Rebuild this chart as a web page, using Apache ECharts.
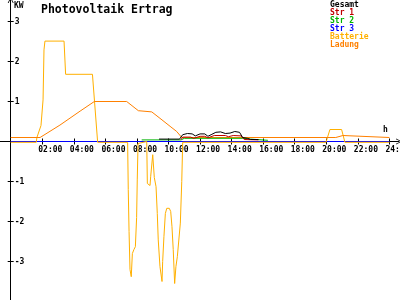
<!DOCTYPE html>
<html><head><meta charset="utf-8">
<script src="https://cdn.jsdelivr.net/npm/echarts@6/dist/echarts.min.js"></script>
<style>html,body{margin:0;padding:0;background:#fff}#c{width:400px;height:300px}</style>
</head><body><div id="c"></div>
<script>
// ---- data (hours of day, kW) ----
const xTickHours = [2,4,6,8,10,12,14,16,18,20,22,24];
const yTickValues = [-3,-2,-1,1,2,3];
const seriesNames = ['Gesamt','Str 1','Str 2','Str 3','Batterie','Ladung'];

const gesamtHours = [9.4,10.7,10.9,11.2,11.5,11.7,12.0,12.3,12.5,12.7,13.0,13.3,13.6,13.9,14.2,14.5,14.7,15.0,15.2,15.7];
const gesamtValues = [0.06,0.06,0.17,0.2,0.19,0.14,0.19,0.19,0.13,0.17,0.23,0.24,0.2,0.21,0.25,0.23,0.1,0.08,0.05,0.05];

const str1Hours = [10.8,10.9,11.4,11.6,12.0,12.3,12.5,12.9,13.6,13.8,14.1,14.6,14.8,15.7];
const str1Values = [0.05,0.11,0.11,0.08,0.13,0.13,0.09,0.15,0.15,0.12,0.15,0.14,0.05,0.04];

const str2Hours = [8.3,10.8,11.0,14.7,14.8,15.2,15.3,16.3];
const str2Values = [0.04,0.04,0.08,0.08,0.06,0.06,0.03,0.03];

const str3Hours = [0,24];
const str3Values = [0,0];

const battHours = [0,1.62,1.66,1.92,2.05,2.11,2.17,3.38,3.48,5.18,5.51,7.41,7.45,7.5,7.56,7.64,7.71,7.81,7.9,7.98,8.02,8.07,8.19,8.62,8.66,8.83,8.87,9.0,9.08,9.1,9.21,9.29,9.35,9.46,9.59,9.63,9.71,9.8,9.89,10.05,10.14,10.22,10.3,10.39,10.47,10.56,10.68,10.75,10.84,10.9,19.98,20.23,20.97,21.18,24];
const battValues = [-0.02,-0.02,0.1,0.4,1.04,2.29,2.51,2.51,1.68,1.68,-0.02,-0.02,-1.2,-2.25,-3.2,-3.38,-2.8,-2.7,-2.63,-1.9,-0.96,-0.05,0,0,-1.05,-1.1,-0.88,-0.33,-0.38,-0.9,-1.13,-1.8,-2.46,-3.13,-3.5,-3.0,-2.38,-1.8,-1.67,-1.67,-1.75,-2.13,-2.7,-3.55,-3.13,-2.88,-2.84,-2.04,-1.0,-0.02,-0.02,0.3,0.3,-0.02,-0.02];

const ladHours = [0,1.86,3.12,4.4,5.3,7.35,8.09,8.94,9.46,10.1,10.52,10.84,20.6,20.62,21.05,21.07,24];
const ladValues = [0.1,0.1,0.41,0.76,1.0,1.0,0.77,0.74,0.58,0.38,0.25,0.1,0.1,0.15,0.15,0.1,0.1];

const colors = ['#000000','#c00000','#00b400','#0000ff','#ffb000','#ff8000'];

function zip(h, v){ return h.map((x,i)=>[x, v[i]]); }
const allData = [
  zip(gesamtHours,gesamtValues), zip(str1Hours,str1Values), zip(str2Hours,str2Values),
  zip(str3Hours,str3Values), zip(battHours,battValues), zip(ladHours,ladValues)
];
const drawOrder = [3,4,5,2,1,0];

const FONT = 'DejaVu Sans Mono';
const pxPerHour = 15.78;
const x0 = 10.7;           // pixel of hour 0
const yZero = 141.5;       // pixel of 0 kW
const gridH = 301.5;
const xMin = -x0/pxPerHour, xMax = (399 - x0)/pxPerHour;
const labelShift = 4/pxPerHour;
const arrow = 'path://M0,10 L5,0 L10,10 L8.6,10 L5,2.8 L1.4,10 Z';

const chart = echarts.init(document.getElementById('c'), null, {renderer:'canvas'});
const pad = n => (n<10?'0':'')+n;

const xBase = {type:'value', min:xMin, max:xMax, position:'bottom', offset:-(gridH - yZero), splitLine:{show:false}};
const yBase = {type:'value', min:-4, max:yZero/40, position:'left', offset:-x0, splitLine:{show:false}};

chart.setOption({
  animation:false,
  backgroundColor:'#ffffff',
  title:{text:'Photovoltaik Ertrag', left:36, top:-1,
    textStyle:{fontFamily:FONT, fontSize:11.5, fontWeight:'bold', color:'#000'}},
  legend:{orient:'vertical', left:325, top:1, itemGap:0, itemWidth:0, itemHeight:8, icon:'none',
    selectedMode:false, padding:0,
    textStyle:{fontFamily:FONT, fontSize:8, fontWeight:'bold', lineHeight:8},
    data: seriesNames.map((n,i)=>({name:n, textStyle:{color:colors[i]}}))},
  grid:{left:0, top:0, width:399, height:gridH, outerBoundsMode:'none', containLabel:false},
  xAxis:[Object.assign({}, xBase, {
    axisLine:{show:true, onZero:false, symbol:['none',arrow], symbolSize:[6,6], lineStyle:{color:'#000', width:1}},
    axisTick:{show:true, customValues:xTickHours, length:3, lineStyle:{color:'#000'}},
    axisLabel:{show:true, customValues:xTickHours.map(h=>h-labelShift), align:'left', margin:4,
      formatter:v=>pad(Math.round(v))+':00',
      fontFamily:FONT, fontSize:8, fontWeight:'bold', color:'#000'}
  }), Object.assign({}, xBase, {
    axisLine:{show:false, onZero:false},
    axisTick:{show:true, inside:true, customValues:xTickHours, length:3, lineStyle:{color:'#000'}},
    axisLabel:{show:false}
  })],
  yAxis:[Object.assign({}, yBase, {
    axisLine:{show:true, onZero:false, symbol:['none',arrow], symbolSize:[6,6], lineStyle:{color:'#000', width:1}},
    axisTick:{show:true, customValues:[-4].concat(yTickValues), length:3, lineStyle:{color:'#000'}},
    axisLabel:{show:true, inside:true, customValues:yTickValues, margin:4, align:'left',
      fontFamily:FONT, fontSize:8, fontWeight:'bold', color:'#000'}
  }), Object.assign({}, yBase, {
    axisLine:{show:false, onZero:false},
    axisTick:{show:true, inside:true, customValues:[-4].concat(yTickValues), length:3, lineStyle:{color:'#000'}},
    axisLabel:{show:false}
  })],
  graphic:[
    {type:'text', left:14, top:2, style:{text:'KW', font:'bold 8px "DejaVu Sans Mono"', fill:'#000'}},
    {type:'text', left:383, top:126, style:{text:'h', font:'bold 8px "DejaVu Sans Mono"', fill:'#000'}}
  ],
  series: drawOrder.map((i,k)=>({
    name:seriesNames[i], type:'line', data:allData[i], showSymbol:false, symbol:'none',
    xAxisIndex:0, yAxisIndex:0, z:2+k,
    lineStyle:{color:colors[i], width:1}, itemStyle:{color:colors[i]}
  }))
});
</script></body></html>
